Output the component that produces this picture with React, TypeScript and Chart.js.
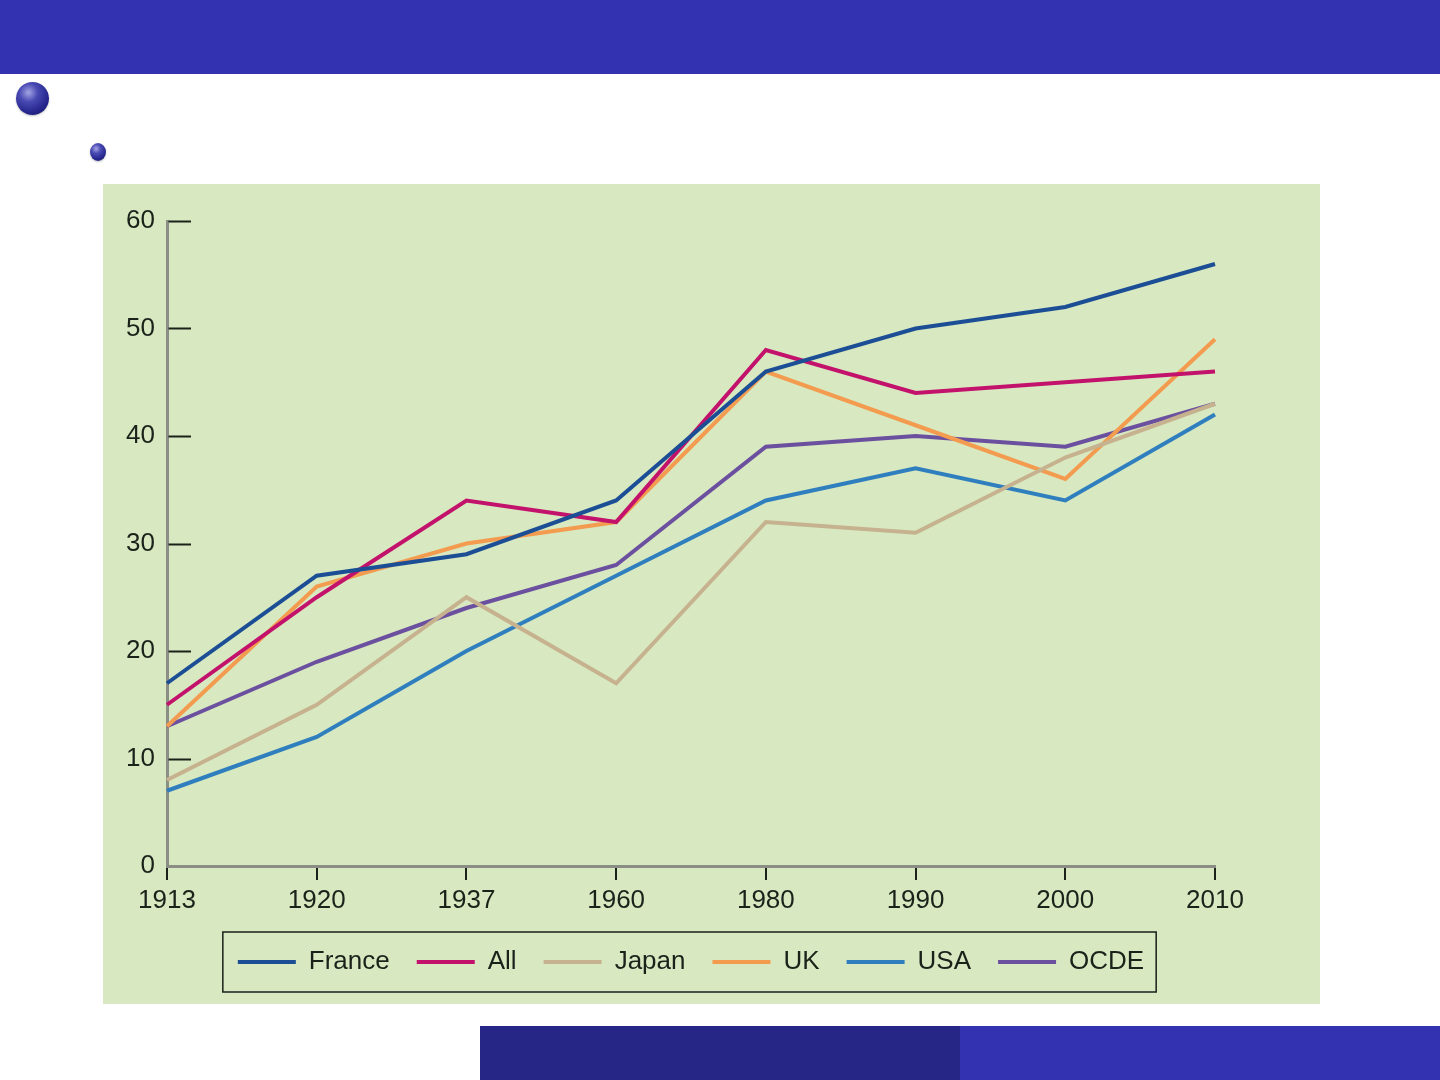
import { useEffect, useRef } from 'react';
import Chart from 'chart.js/auto';

const years = ['1913', '1920', '1937', '1960', '1980', '1990', '2000', '2010'];
const france = [17, 27, 29, 34, 46, 50, 52, 56];
const allemagne = [15, 25, 34, 32, 48, 44, 45, 46];
const japan = [8, 15, 25, 17, 32, 31, 38, 43];
const uk = [13, 26, 30, 32, 46, 41, 36, 49];
const usa = [7, 12, 20, 27, 34, 37, 34, 42];
const ocde = [13, 19, 24, 28, 39, 40, 39, 43];
const yTicks = [0, 10, 20, 30, 40, 50, 60];

const FONT = '"Liberation Sans", Arial, Helvetica, sans-serif';
const INK = '#1a221a';

// small tick marks drawn inside the plot, to the right of the y axis
const yTickMarks = {
  id: 'yTickMarks',
  afterDatasetsDraw(chart: any) {
    const { ctx, chartArea, scales } = chart;
    ctx.save();
    ctx.strokeStyle = INK;
    ctx.lineWidth = 2;
    yTicks.forEach((v) => {
      if (v === 0) return;
      const y = Math.round(scales.y.getPixelForValue(v)) + 0.5;
      ctx.beginPath();
      ctx.moveTo(chartArea.left + 1.5, y);
      ctx.lineTo(chartArea.left + 24, y);
      ctx.stroke();
    });
    ctx.restore();
  }
};

// frame around the legend items
const legendFrame = {
  id: 'legendFrame',
  afterDraw(chart: any) {
    const boxes = chart.legend?.legendHitBoxes;
    if (!boxes || !boxes.length) return;
    const first = boxes[0];
    const last = boxes[boxes.length - 1];
    const { ctx } = chart;
    ctx.save();
    ctx.strokeStyle = '#1a1f1a';
    ctx.lineWidth = 1.5;
    const left = first.left - 15;
    const right = last.left + last.width + 12;
    const top = first.top - 17;
    const bottom = first.top + first.height + 17;
    ctx.strokeRect(left, top, right - left, bottom - top);
    ctx.restore();
  }
};

function LineChart() {
  const canvasRef = useRef<HTMLCanvasElement>(null);
  const chartRef = useRef<Chart | null>(null);

  useEffect(() => {
    if (!canvasRef.current) return;
    const ctx = canvasRef.current.getContext('2d');
    if (!ctx) return;
    if (chartRef.current) chartRef.current.destroy();

    const series = [
      { label: 'France', data: france, color: '#1b4e95' },
      { label: 'All', data: allemagne, color: '#c3126c' },
      { label: 'Japan', data: japan, color: '#c6b28e' },
      { label: 'UK', data: uk, color: '#f39b4f' },
      { label: 'USA', data: usa, color: '#2f7fbf' },
      { label: 'OCDE', data: ocde, color: '#6b509f' }
    ];

    const defaultLabels = (Chart as any).defaults.plugins.legend.labels.generateLabels;

    chartRef.current = new Chart(ctx, {
      type: 'line',
      data: {
        labels: years,
        datasets: series.map((s) => ({
          label: s.label,
          data: s.data,
          borderColor: s.color,
          backgroundColor: s.color,
          borderWidth: 4,
          pointRadius: 0,
          tension: 0,
          fill: false
        }))
      },
      options: {
        responsive: true,
        maintainAspectRatio: false,
        animation: false,
        layout: { padding: { top: 37, right: 105, bottom: 19, left: 0 } },
        plugins: {
          tooltip: { enabled: false },
          legend: {
            display: true,
            position: 'bottom',
            fullSize: false,
            labels: {
              color: INK,
              font: { family: FONT, size: 26 },
              boxWidth: 58,
              boxHeight: 4,
              padding: 27,
              generateLabels(chart: any) {
                return defaultLabels(chart).map((l: any) => ({
                  ...l,
                  fillStyle: l.strokeStyle,
                  lineWidth: 0
                }));
              }
            }
          }
        },
        scales: {
          x: {
            type: 'category',
            offset: false,
            grid: {
              drawOnChartArea: false,
              color: INK,
              lineWidth: 2,
              tickLength: 14
            },
            border: { display: true, color: '#8a8e84', width: 3 },
            ticks: {
              color: INK,
              font: { family: FONT, size: 26 },
              padding: 5,
              maxRotation: 0,
              autoSkip: false
            },
            afterFit(scale: any) {
              scale.height = 56;
            }
          },
          y: {
            min: 0,
            max: 60,
            grid: { drawOnChartArea: false, drawTicks: false },
            border: { display: true, color: '#8a8e84', width: 3 },
            ticks: {
              stepSize: 10,
              color: INK,
              font: { family: FONT, size: 26 },
              padding: 12
            },
            afterFit(scale: any) {
              scale.width = 64;
            }
          }
        }
      },
      plugins: [yTickMarks, legendFrame]
    });

    return () => {
      if (chartRef.current) {
        chartRef.current.destroy();
        chartRef.current = null;
      }
    };
  }, []);

  return <canvas ref={canvasRef} />;
}

const sphere = (left: number, top: number, w: number, h: number) => ({
  position: 'absolute' as const,
  left,
  top,
  width: w,
  height: h,
  borderRadius: '50%',
  background: 'radial-gradient(circle at 38% 32%, #a4a4e4 0%, #4a4ab4 30%, #26268e 65%, #14145a 100%)',
  boxShadow: '0 1px 2px rgba(0,0,0,0.25)'
});

export default function App() {
  return (
    <div
      style={{
        position: 'absolute',
        left: 0,
        top: 0,
        width: 1440,
        height: 1080,
        overflow: 'hidden',
        background: '#ffffff'
      }}
    >
      <div style={{ position: 'absolute', left: 0, top: 0, width: 1440, height: 74, background: '#3333b2' }} />
      <div style={sphere(16, 82, 33, 33)} />
      <div style={sphere(90, 143, 16, 18)} />
      <div
        style={{
          position: 'absolute',
          left: 103,
          top: 184,
          width: 1217,
          height: 820,
          background: '#d8e8c0'
        }}
      >
        <LineChart />
      </div>
      <div style={{ position: 'absolute', left: 480, top: 1026, width: 480, height: 54, background: '#262686' }} />
      <div style={{ position: 'absolute', left: 960, top: 1026, width: 480, height: 54, background: '#3333b2' }} />
    </div>
  );
}
